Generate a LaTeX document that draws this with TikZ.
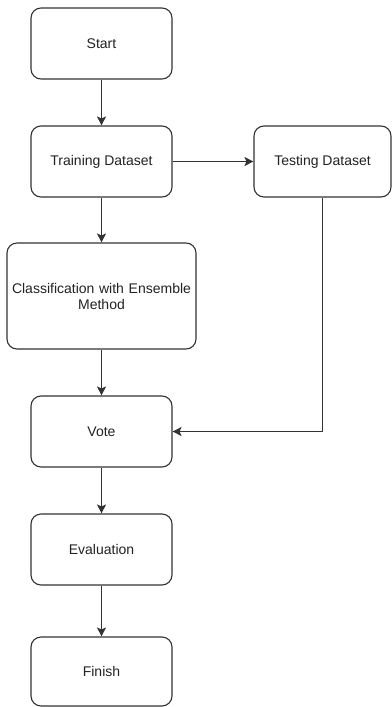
\documentclass[tikz,border=0pt]{standalone}
\usepackage{fontspec}
\setmainfont{Liberation Sans}
\usetikzlibrary{arrows.meta}
\definecolor{C1}{RGB}{51,51,51}
\definecolor{T1}{RGB}{34,34,34}

\begin{document}
\begin{tikzpicture}[x=1pt, y=-1pt,
    stepbox/.style={draw=C1, line width=1.1pt, rounded corners=10pt,
                    fill=white, text=T1, inner sep=0pt, align=center,
                    minimum width=141pt, minimum height=71pt,
                    font=\fontsize{14}{16}\selectfont},
    flow/.style={draw=C1, line width=1.1pt,
                 -{Stealth[length=9pt, width=9pt, inset=2pt]}}]
    \useasboundingbox (0, 0) rectangle (391, 707);

    \node[stepbox] (start)    at (101.5, 43.5)  {Start};
    \node[stepbox] (training) at (101.5, 161.5) {Training Dataset};
    \node[stepbox, minimum width=137pt] (testing) at (322.5, 161.5) {Testing Dataset};
    \node[stepbox, minimum width=189pt, minimum height=106pt,
          text width=185pt] (classify) at (101.5, 296) {Classification with Ensemble\\Method};
    \node[stepbox] (vote)     at (101.5, 431.5) {Vote};
    \node[stepbox] (eval)     at (101.5, 549.5) {Evaluation};
    \node[stepbox, minimum height=69pt] (finish) at (101.5, 671.5) {Finish};

    \draw[flow] (start) -- (training);
    \draw[flow] (training) -- (testing);
    \draw[flow] (training) -- (classify);
    \draw[flow] (classify) -- (vote);
    \draw[flow] (testing) |- (vote);
    \draw[flow] (vote) -- (eval);
    \draw[flow] (eval) -- (finish);
\end{tikzpicture}
\end{document}
